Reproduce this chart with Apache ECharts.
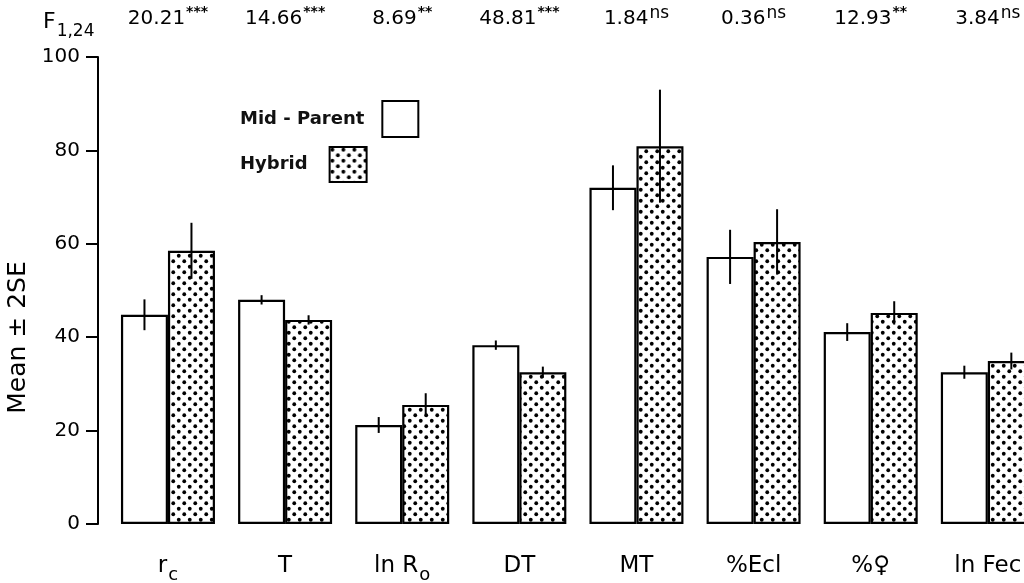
<!DOCTYPE html>
<html>
<head>
<meta charset="utf-8">
<script src="https://cdn.jsdelivr.net/npm/echarts@6/dist/echarts.min.js"></script>
<style>
  html, body { margin: 0; padding: 0; background: #fff; }
  #chart { width: 1024px; height: 583px; }
</style>
</head>
<body>
<div id="chart"></div>
<script>
// Trait categories (rich-text markup for subscripts / symbols)
const categories = ['{m|r}{sub|c}', '{m|T}', '{m|ln R}{sub|o}', '{m|DT}', '{m|MT}', '{m|%Ecl}', '{m|%♀}', '{m|ln Fec}'];

// F(1,24) statistics and significance marks printed above each trait
const fValues = ['20.21', '14.66', '8.69', '48.81', '1.84', '0.36', '12.93', '3.84'];
const fSignif = ['***', '***', '**', '***', 'ns', 'ns', '**', 'ns'];

// Means and 2SE half-widths
const midParent    = [44.8, 48.0, 21.2, 38.3, 72.0, 57.2, 41.1, 32.5];
const midParentErr = [3.3, 1.0, 1.7, 1.0, 4.8, 5.8, 1.9, 1.4];
const hybrid       = [58.5, 43.7, 25.5, 32.5, 80.9, 60.4, 45.2, 34.9];
const hybridErr    = [6.0, 1.0, 2.5, 1.2, 12.1, 7.0, 2.5, 1.8];

// Y axis ticks
const yMin = 0, yMax = 100, yStep = 20;

const BAR_W = 47;
const FONT = '"DejaVu Sans", sans-serif';

// Stippled fill for the hybrid bars
function dotPattern() {
  const c = document.createElement('canvas');
  c.width = 11; c.height = 11;
  const g = c.getContext('2d');
  g.fillStyle = '#fff';
  g.fillRect(0, 0, 11, 11);
  g.fillStyle = '#000';
  [[2.75, 2.75], [8.25, 8.25]].forEach(([x, y]) => {
    g.beginPath(); g.arc(x, y, 1.9, 0, Math.PI * 2); g.fill();
  });
  return { image: c, repeat: 'repeat' };
}

function errorBar(sign) {
  return function (params, api) {
    const i = api.value(0), m = api.value(1), e = api.value(2);
    const hi = api.coord([i, m + e]);
    const lo = api.coord([i, m - e]);
    const x = hi[0] + sign * BAR_W / 2;
    return {
      type: 'line',
      shape: { x1: x, y1: hi[1], x2: x, y2: lo[1] },
      style: { stroke: '#000', lineWidth: 2 }
    };
  };
}

const chart = echarts.init(document.getElementById('chart'), null, { renderer: 'canvas' });

chart.setOption({
  backgroundColor: '#fff',
  animation: false,
  textStyle: { fontFamily: FONT, color: '#000' },
  grid: { left: 109.4, width: 937, top: 57, bottom: 59, outerBoundsMode: 'none' },
  legend: [
    {
      data: ['Mid - Parent'], left: 235, top: 95, align: 'right', orient: 'vertical',
      selectedMode: false, icon: 'rect', itemWidth: 36, itemHeight: 36,
      textStyle: { fontFamily: FONT, fontSize: 18, fontWeight: 'bold', color: '#111', padding: [0, 13, 0, 0] }
    },
    {
      data: ['Hybrid'], left: 235, top: 141, align: 'right', orient: 'vertical',
      selectedMode: false, icon: 'rect', itemWidth: 37, itemHeight: 35,
      textStyle: { fontFamily: FONT, fontSize: 18, fontWeight: 'bold', color: '#111', padding: [0, 17, 0, 0] }
    }
  ],
  graphic: [
    {
      type: 'text', left: 43, top: 7,
      style: {
        text: '{f|F}{s|1,24}',
        rich: {
          f: { fontFamily: FONT, fontSize: 22, color: '#000', lineHeight: 26, verticalAlign: 'bottom' },
          s: { fontFamily: FONT, fontSize: 17, color: '#000', lineHeight: 26, verticalAlign: 'top', padding: [16, 0, 0, 1] }
        }
      }
    }
  ],
  xAxis: [
    {
      type: 'category', data: categories, position: 'bottom',
      axisLine: { show: false }, axisTick: { show: false }, splitLine: { show: false },
      axisLabel: {
        margin: 26, interval: 0,
        rich: {
          m: { fontFamily: FONT, fontSize: 23, color: '#000', lineHeight: 28, verticalAlign: 'bottom' },
          sub: { fontFamily: FONT, fontSize: 18, color: '#000', lineHeight: 28, verticalAlign: 'top', padding: [16, 0, 0, 1] }
        }
      }
    },
    {
      type: 'category', data: categories, position: 'top',
      axisLine: { show: false }, axisTick: { show: false }, splitLine: { show: false },
      axisLabel: {
        margin: 28, interval: 0,
        formatter: (v, i) => '{v|' + fValues[i] + '}{' + (fSignif[i] === 'ns' ? 'n' : 'a') + '|' + fSignif[i] + '}',
        rich: {
          v: { fontFamily: FONT, fontSize: 20, color: '#000', lineHeight: 24, verticalAlign: 'bottom' },
          n: { fontFamily: FONT, fontSize: 17, color: '#000', lineHeight: 24, verticalAlign: 'top', padding: [0, 0, 0, 1] },
          a: { fontFamily: FONT, fontSize: 14, fontWeight: 'bold', color: '#000', lineHeight: 24, verticalAlign: 'top', padding: [0, 0, 0, 1] }
        }
      }
    }
  ],
  yAxis: {
    type: 'value', min: yMin, max: yMax, interval: yStep, offset: 11.4,
    axisLine: { show: true, lineStyle: { color: '#000', width: 2 } },
    axisTick: { show: true, length: 12, lineStyle: { color: '#000', width: 2 } },
    axisLabel: { fontFamily: FONT, fontSize: 20, color: '#000', margin: 18 },
    splitLine: { show: false },
    name: 'Mean ± 2SE', nameLocation: 'middle', nameGap: 53,
    nameTextStyle: { fontFamily: FONT, fontSize: 25, color: '#000', padding: [0, 94, 0, 0] }
  },
  series: [
    {
      name: 'Mid - Parent', type: 'bar', data: midParent, barWidth: BAR_W, barGap: '0%',
      itemStyle: { color: '#fff', borderColor: '#000', borderWidth: 2.2 }, z: 2
    },
    {
      name: 'Hybrid', type: 'bar', data: hybrid, barWidth: BAR_W, barGap: '0%',
      itemStyle: { color: dotPattern(), borderColor: '#000', borderWidth: 2.2 }, z: 2
    },
    {
      type: 'custom', renderItem: errorBar(-1), z: 5,
      encode: { x: 0, y: 1 },
      data: midParent.map((m, i) => [i, m, midParentErr[i]])
    },
    {
      type: 'custom', renderItem: errorBar(1), z: 5,
      encode: { x: 0, y: 1 },
      data: hybrid.map((m, i) => [i, m, hybridErr[i]])
    }
  ]
});
</script>
</body>
</html>
